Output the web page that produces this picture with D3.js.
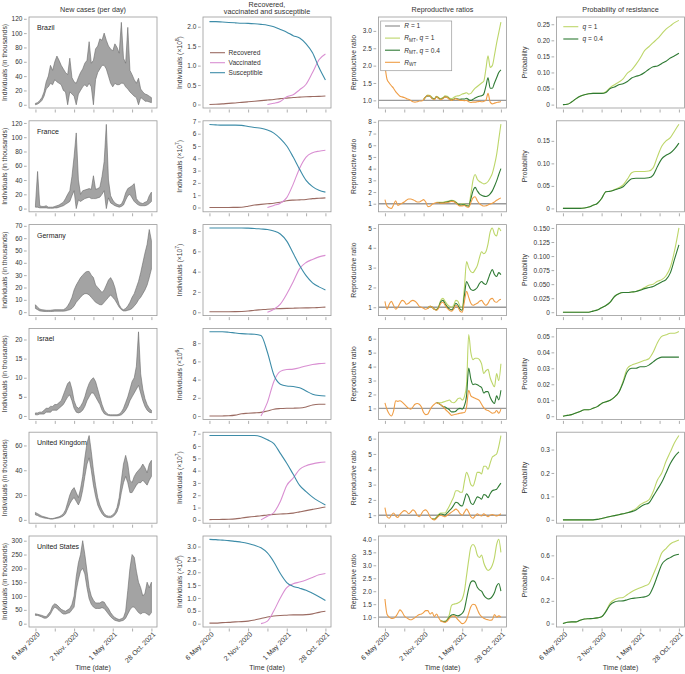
<!DOCTYPE html>
<html>
<head>
<meta charset="utf-8">
<script src="https://cdn.jsdelivr.net/npm/d3@7"></script>
<style>
  body { margin: 0; background: #fff; }
  svg text { font-family: "Liberation Sans", Arial, Helvetica, sans-serif; }
</style>
</head>
<body>
<svg id="chart" width="685" height="674"></svg>
<script>
// ---------- data ----------
const countries = ["Brazil", "France", "Germany", "Israel", "United Kingdom", "United States"];
const dateTickDays = [0, 90, 180, 270, 360, 450, 540];   // days after 6 May 2020
const dateTickLabels = ["6 May 2020", "", "2 Nov. 2020", "", "1 May 2021", "", "28 Oct. 2021"];
const popExponent = [8, 7, 7, 6, 7, 8];

// new cases (thousands), one value every 10 days, upper / lower envelope of the daily counts
const caseStep = 10;
const brazilHi = [2,3,6,10,18,32,40,55,48,60,68,62,55,50,45,42,65,38,32,30,38,45,50,58,62,88,58,62,78,82,92,90,100,90,82,78,75,85,80,72,115,65,58,108,48,42,35,30,37,22,18,15,14,12,10];
const brazilLo = [0,1,3,6,12,22,25,30,28,35,32,30,28,20,18,0,18,15,12,0,15,20,25,28,25,30,25,0,35,45,50,55,55,50,40,30,25,30,28,28,30,30,25,22,18,15,12,10,0,10,8,5,5,4,3];
const franceHi = [5,52,4,3,3,4,2,2,2,3,4,5,7,9,14,20,25,45,73,106,40,20,25,26,27,28,27,46,27,28,30,45,66,118,40,18,12,8,6,5,6,12,22,28,30,32,35,14,10,8,7,9,10,18,23];
const franceLo = [2,2,1,1,1,1,0.5,0.5,0.5,1,1,2,3,4,6,8,10,18,25,0,12,10,12,14,15,16,14,14,14,15,16,20,25,0,15,8,6,4,3,2,3,5,12,18,20,15,10,7,5,4,4,4,5,7,10];
const germanyHi = [6,4,2.5,2,1.8,1.5,1.5,1.5,1.8,2,2,2,2,2,3,5,8,12,18,22,25,28,30,32,33,33,30,28,22,20,18,16,18,22,26,28,25,20,12,6,3,2,3,5,8,12,15,20,25,32,40,48,55,67,58];
const germanyLo = [3,2,1,0.8,0.6,0.5,0.5,0.5,0.6,0.8,0.8,0.8,0.8,0.8,1,1.5,2,3,5,8,10,12,14,15,15,14,12,10,8,7,6,6,8,10,12,14,12,10,7,4,2,1,1,1.5,2,3,5,7,10,12,15,18,22,28,35];
const israelHi = [0.8,0.8,1,1,1.5,2,2,2.5,2.5,3,3,3.5,4,5.5,7,8.5,9,7,4,2.5,2,2.5,3.5,5,7,8.5,9.5,10,9,7,5,3,1.5,0.8,0.4,0.3,0.3,0.3,0.3,0.5,1,2,3.5,5,7,9,10,13,22,11,7,4.5,3,2,1.5];
const israelLo = [0.3,0.3,0.5,0.5,0.5,1,1,1,1.5,1.5,1.5,2,2.5,3,4,5,5.5,4,2,1,0.8,1,1.5,2.5,4,5,6,6,5,4,3,1.5,0.6,0.3,0.1,0.05,0.05,0.05,0.05,0.1,0.3,0.8,1.5,2.5,4,5,6,7,8,6,4,2.5,1.5,1,0.8];
const ukHi = [6,5,4,3,2.5,2,1.5,1,1,1.5,2,2.5,3.5,5,8,14,20,24,26,22,18,25,35,50,62,68,55,40,28,18,12,8,5,3.5,3,3,4,6,10,18,32,45,52,45,32,30,35,38,40,42,45,42,38,45,48];
const ukLo = [4,3.5,2.5,2,1.5,1.2,1,0.6,0.6,1,1.3,1.6,2.3,3.2,5,9,13,16,18,15,12,16,24,35,45,50,40,28,19,12,8,5,3,2.2,1.8,1.8,2.5,4,6.5,12,22,30,35,30,22,22,25,28,30,30,32,30,28,32,35];
const usHi = [36,34,32,30,27,25,35,45,65,72,68,60,52,48,45,50,55,70,100,170,220,250,300,250,190,130,100,85,75,75,75,80,78,65,55,40,30,22,18,15,18,22,45,120,200,250,240,190,150,130,100,110,150,130,150];
const usLo = [30,30,27,24,20,20,25,35,50,60,55,48,40,35,35,38,40,50,60,120,160,190,200,180,130,90,70,60,55,55,55,58,55,45,35,25,18,12,10,8,10,12,20,35,50,60,60,50,40,35,40,40,35,30,40];

// recovered / vaccinated / susceptible, one value every 30 days
const svrStep = 30;
const brazilS = [2.13,2.13,2.12,2.11,2.10,2.09,2.085,2.075,2.06,2.04,2.00,1.93,1.86,1.77,1.71,1.56,1.33,0.95,0.63];
const brazilR = [0,0.005,0.015,0.03,0.04,0.055,0.07,0.085,0.1,0.115,0.13,0.15,0.165,0.18,0.19,0.2,0.205,0.21,0.22];
const brazilV = [null,null,null,null,null,null,null,null,null,0,0.03,0.08,0.2,0.25,0.38,0.52,0.82,1.15,1.3];
const franceS = [6.75,6.72,6.7,6.7,6.7,6.68,6.58,6.5,6.45,6.3,6.05,5.6,5.0,4.1,3.1,2.2,1.7,1.4,1.25];
const franceR = [0,0,0,0,0.01,0.02,0.1,0.2,0.25,0.3,0.35,0.42,0.55,0.6,0.62,0.65,0.72,0.75,0.78];
const franceV = [null,null,null,null,null,null,null,null,null,0,0.17,0.35,0.8,1.9,3.2,4.1,4.45,4.58,4.65];
const germanyS = [8.3,8.3,8.3,8.3,8.3,8.3,8.28,8.25,8.2,8.15,8.0,7.7,7.0,5.8,4.6,3.6,2.9,2.5,2.2];
const germanyR = [0.05,0.05,0.05,0.05,0.06,0.08,0.12,0.2,0.25,0.3,0.33,0.36,0.38,0.4,0.42,0.43,0.44,0.47,0.5];
const germanyV = [null,null,null,null,null,null,null,null,null,0,0.3,0.8,1.8,3.0,4.3,4.9,5.2,5.45,5.6];
const israelS = [9.25,9.25,9.25,9.2,9.12,9.05,9.0,8.98,8.85,7.0,4.5,3.5,3.3,3.25,3.1,2.75,2.4,2.25,2.2];
const israelR = [0,0,0.01,0.03,0.1,0.25,0.3,0.35,0.4,0.55,0.75,0.82,0.85,0.86,0.88,1.0,1.22,1.3,1.3];
const israelV = [null,null,null,null,null,null,null,null,0,1.5,3.8,4.9,5.1,5.15,5.3,5.5,5.65,5.75,5.8];
const ukS = [6.85,6.85,6.85,6.85,6.85,6.85,6.85,6.85,6.75,6.5,6.2,5.4,4.6,3.7,2.8,2.3,1.85,1.5,1.2];
const ukR = [0.02,0.03,0.04,0.05,0.08,0.15,0.22,0.28,0.33,0.4,0.45,0.48,0.5,0.55,0.65,0.75,0.85,0.95,1.05];
const ukV = [null,null,null,null,null,null,null,null,0,0.3,0.6,1.5,2.8,3.4,4.1,4.4,4.55,4.65,4.7];
const usS = [3.28,3.27,3.25,3.23,3.2,3.17,3.12,3.05,2.95,2.75,2.4,1.95,1.6,1.45,1.38,1.3,1.18,1.05,0.9];
const usR = [0.02,0.02,0.04,0.05,0.07,0.08,0.1,0.14,0.2,0.26,0.3,0.32,0.33,0.34,0.34,0.35,0.38,0.44,0.48];
const usV = [null,null,null,null,null,null,null,null,0,0.1,0.5,1.0,1.4,1.55,1.62,1.7,1.8,1.9,1.95];

// reproductive ratios, one value every 10 days; mutant series start at mutStart (index)
const ratioStep = 10;
const mutStart = [18, 24, 20, 24, 22, 26];
const brazilWT = [2.0,1.6,1.5,1.42,1.35,1.25,1.18,1.12,1.1,1.08,1.05,1.03,1.0,0.96,0.95,0.96,0.98,0.98,1.02,1.1,1.14,1.12,1.05,1.02,1.1,1.05,1.02,1.05,1.1,1.08,1.03,1.0,1.02,1.05,1.02,1.0,1.0,0.99,1.0,0.96,0.94,0.95,0.95,0.96,0.97,0.96,0.97,1.0,1.2,0.95,0.9,0.92,0.94,0.95,0.97];
const brazilQ1 = [1.02,1.1,1.15,1.14,1.08,1.05,1.12,1.08,1.05,1.08,1.13,1.12,1.07,1.05,1.08,1.12,1.13,1.15,1.18,1.2,1.22,1.18,1.2,1.28,1.35,1.4,1.45,1.5,1.55,1.9,2.28,1.95,2.0,2.3,2.65,2.95,3.25];
const brazilQ04 = [1.02,1.1,1.13,1.12,1.06,1.03,1.1,1.06,1.03,1.06,1.1,1.09,1.04,1.01,1.03,1.06,1.04,1.03,1.04,1.04,1.06,1.02,1.0,1.03,1.07,1.1,1.12,1.13,1.18,1.4,1.65,1.35,1.35,1.5,1.65,1.8,1.88];
const franceWT = [1.35,0.8,0.65,0.6,0.9,1.25,0.85,0.95,1.05,1.15,1.3,1.4,1.4,1.35,1.25,1.15,1.15,1.25,1.35,1.15,0.75,0.78,0.95,1.05,1.1,1.08,1.05,1.05,1.07,1.1,1.15,1.2,1.18,1.05,0.9,0.8,0.82,0.85,0.75,0.7,1.1,1.5,1.6,1.25,1.0,0.88,0.8,0.82,0.9,0.98,1.05,1.15,1.3,1.4,1.5];
const franceQ1 = [1.12,1.12,1.12,1.13,1.16,1.2,1.25,1.3,1.28,1.15,1.0,0.95,1.0,0.98,0.9,0.85,1.8,3.0,3.5,3.1,2.9,2.8,2.7,2.75,2.9,3.2,3.6,4.3,5.2,6.5,7.8];
const franceQ04 = [1.11,1.1,1.08,1.09,1.12,1.15,1.2,1.25,1.22,1.1,0.95,0.88,0.9,0.9,0.82,0.78,1.4,2.1,2.4,2.1,1.85,1.72,1.65,1.62,1.68,1.85,2.1,2.5,2.95,3.5,4.0];
const germanyWT = [1.3,0.9,1.15,1.3,1.1,0.9,1.0,1.2,1.35,1.3,1.15,1.2,1.3,1.35,1.3,1.2,1.05,1.0,0.95,0.9,0.95,1.05,1.0,0.9,0.85,0.95,1.2,1.25,1.1,0.95,0.85,0.8,0.9,1.1,1.0,0.8,0.75,1.3,1.8,1.5,1.2,1.1,1.15,1.2,1.3,1.35,1.2,1.1,1.2,1.4,1.45,1.3,1.25,1.35,1.4];
const germanyQ1 = [0.95,1.05,1.0,0.9,0.9,1.05,1.35,1.45,1.3,1.15,1.05,1.0,1.1,1.35,1.3,1.05,1.0,2.0,3.3,3.0,2.8,2.75,2.9,3.1,3.5,3.8,3.7,3.8,4.2,4.8,5.0,4.7,4.6,5.0,4.85];
const germanyQ04 = [0.95,1.05,1.0,0.9,0.87,1.0,1.28,1.35,1.18,1.02,0.92,0.87,0.97,1.2,1.1,0.9,0.85,1.6,2.3,2.1,1.9,1.85,1.9,2.0,2.2,2.3,2.2,2.15,2.4,2.7,2.9,2.65,2.55,2.75,2.65];
const israelWT = [1.4,0.9,0.6,0.45,0.8,1.55,1.5,1.55,1.45,1.3,1.15,1.0,0.95,1.1,1.3,1.35,1.3,1.1,0.7,0.55,0.6,0.9,1.15,1.3,1.4,1.35,1.25,1.15,0.95,0.8,0.65,0.5,0.55,0.58,0.62,0.65,0.68,0.7,1.1,2.3,1.9,1.8,1.72,1.65,1.55,1.3,1.05,0.9,0.85,0.75,0.65,0.68,0.85,0.65,0.95];
const israelQ1 = [1.42,1.4,1.4,1.45,1.5,1.55,1.6,1.45,1.4,1.5,1.7,1.75,1.6,1.85,2.7,6.3,5.0,4.5,4.6,4.6,4.5,4.2,3.5,3.7,3.8,3.2,2.8,2.55,3.5,3.0,4.2];
const israelQ04 = [1.4,1.35,1.25,1.12,1.1,1.0,0.9,0.75,0.75,0.8,0.95,1.0,0.95,1.2,1.9,3.9,3.1,2.7,2.75,2.7,2.6,2.5,2.1,2.2,2.2,1.8,1.5,1.35,1.9,1.6,2.3];
const ukWT = [1.5,0.9,0.8,1.0,1.15,0.95,0.85,1.05,1.2,1.3,1.25,1.1,1.2,1.35,1.25,1.0,0.9,1.1,1.3,1.35,1.2,0.9,0.75,0.7,0.8,0.95,1.0,0.95,0.9,1.0,1.1,1.2,1.3,1.4,1.3,1.1,1.0,1.2,1.4,1.2,0.9,0.8,0.95,1.1,1.0,0.95,1.1,1.0,0.9,1.0,1.05,1.0,0.95,1.0,1.1];
const ukQ1 = [0.78,0.75,0.88,1.05,1.15,1.15,1.15,1.35,1.6,1.9,2.2,2.6,2.6,2.5,2.5,3.2,3.8,3.5,3.0,2.9,3.3,3.8,3.8,3.7,4.2,4.2,4.0,4.4,4.8,4.9,5.0,5.5,6.2];
const ukQ04 = [0.77,0.73,0.84,1.0,1.08,1.05,1.02,1.15,1.3,1.45,1.65,1.85,1.8,1.65,1.6,2.0,2.4,2.2,1.8,1.7,1.95,2.2,2.15,2.05,2.35,2.3,2.15,2.4,2.6,2.65,2.7,2.9,3.1];
const usWT = [1.7,1.1,1.0,0.95,0.96,1.02,1.15,1.28,1.2,1.05,0.98,0.93,0.9,0.93,0.98,1.05,1.1,1.12,1.18,1.25,1.25,1.12,1.18,1.02,1.12,0.98,0.85,0.82,0.8,0.85,0.95,1.02,1.05,1.0,0.9,0.82,0.75,0.78,0.9,1.15,1.4,1.5,1.48,1.3,1.12,1.02,0.96,0.92,0.9,0.88,0.9,1.1,1.0,1.05,1.0];
const usQ1 = [0.86,0.84,0.85,0.92,1.1,1.45,1.5,1.52,1.55,1.6,1.7,2.0,2.6,3.2,3.7,3.8,3.7,3.4,3.3,3.4,3.1,2.9,2.8,2.85,3.0,3.3,3.8,4.0,3.5];
const usQ04 = [0.85,0.83,0.82,0.88,1.0,1.08,1.1,1.07,1.05,1.08,1.15,1.3,1.7,2.1,2.35,2.4,2.35,2.15,2.05,2.0,1.85,1.75,1.7,1.72,1.8,1.95,2.2,2.3,2.0];

// probability of resistance, one value every 20 days
const probStep = 20;
const brazilP1 = [0,0.001,0.008,0.018,0.026,0.031,0.034,0.035,0.035,0.035,0.04,0.053,0.062,0.07,0.08,0.098,0.108,0.125,0.145,0.168,0.18,0.193,0.205,0.22,0.235,0.245,0.255,0.262];
const brazilP04 = [0,0.001,0.008,0.018,0.026,0.031,0.034,0.035,0.035,0.035,0.038,0.05,0.055,0.062,0.065,0.072,0.083,0.088,0.092,0.1,0.11,0.118,0.12,0.128,0.135,0.145,0.152,0.16];
const franceP1 = [0,0,0,0,0,0.001,0.003,0.007,0.011,0.022,0.037,0.038,0.042,0.046,0.052,0.065,0.079,0.082,0.082,0.082,0.083,0.09,0.115,0.138,0.15,0.157,0.172,0.187];
const franceP04 = [0,0,0,0,0,0.001,0.003,0.007,0.011,0.022,0.037,0.038,0.041,0.044,0.048,0.058,0.066,0.067,0.067,0.067,0.068,0.074,0.093,0.11,0.118,0.123,0.132,0.145];
const germanyP1 = [0,0,0,0,0,0,0,0.002,0.004,0.008,0.012,0.018,0.028,0.033,0.035,0.035,0.036,0.037,0.04,0.044,0.048,0.05,0.055,0.058,0.065,0.08,0.11,0.15];
const germanyP04 = [0,0,0,0,0,0,0,0.002,0.004,0.008,0.012,0.018,0.028,0.033,0.035,0.035,0.036,0.037,0.039,0.042,0.044,0.046,0.05,0.054,0.058,0.07,0.095,0.12];
const israelP1 = [0,0.0005,0.001,0.002,0.003,0.004,0.004,0.005,0.006,0.008,0.009,0.01,0.012,0.015,0.022,0.03,0.032,0.033,0.034,0.035,0.036,0.04,0.046,0.05,0.051,0.052,0.052,0.053];
const israelP04 = [0,0.0005,0.001,0.002,0.003,0.004,0.004,0.005,0.006,0.008,0.009,0.01,0.012,0.015,0.021,0.028,0.03,0.03,0.031,0.031,0.032,0.034,0.036,0.037,0.037,0.037,0.037,0.037];
const ukP1 = [0,0,0,0,0,0,0,0,0.002,0.006,0.01,0.014,0.018,0.022,0.026,0.03,0.038,0.048,0.065,0.075,0.085,0.12,0.17,0.2,0.25,0.29,0.33,0.36];
const ukP04 = [0,0,0,0,0,0,0,0,0.002,0.006,0.01,0.014,0.018,0.022,0.026,0.03,0.035,0.042,0.055,0.065,0.072,0.1,0.13,0.16,0.2,0.24,0.27,0.29];
const usP1 = [0,0.012,0.015,0.015,0.03,0.04,0.043,0.045,0.05,0.06,0.11,0.18,0.21,0.225,0.23,0.255,0.28,0.3,0.315,0.33,0.35,0.43,0.52,0.62,0.66,0.7,0.72,0.735];
const usP04 = [0,0.012,0.015,0.015,0.03,0.04,0.043,0.045,0.05,0.06,0.105,0.165,0.19,0.198,0.2,0.21,0.22,0.225,0.23,0.235,0.25,0.32,0.42,0.52,0.56,0.58,0.6,0.61];

// axis ticks and limits per row
const caseTicks = [[0,20,40,60,80,100,120],[0,20,40,60,80,100,120],[0,10,20,30,40,50,60,70],[0,5,10,15,20],[0,20,40,60],[0,50,100,150,200,250,300]];
const caseLimits = [[-4.5,122.5],[-4.5,123],[-2.8,71],[-0.9,22.9],[-2.7,70.7],[-12,317]];
const svrTicks = [[0,0.5,1,1.5,2],[0,1,2,3,4,5,6,7],[0,2,4,6,8],[0,2,4,6,8],[0,1,2,3,4,5,6,7],[0,0.5,1,1.5,2,2.5,3]];
const svrDecimals = [1,0,0,0,0,1];
const svrLimits = [[-0.09,2.25],[-0.35,7.05],[-0.33,8.63],[-0.37,9.62],[-0.27,7.12],[-0.13,3.41]];
const ratioTicks = [[1,1.5,2,2.5,3],[1,2,3,4,5,6,7,8],[1,2,3,4,5],[1,2,3,4,5,6],[1,2,3,4,5,6],[1,1.5,2,2.5,3,3.5,4]];
const ratioDecimals = [1,0,0,0,0,1];
const ratioLimits = [[0.78,3.4],[0.31,8.09],[0.58,5.17],[0.21,6.74],[0.48,6.42],[0.62,4.13]];
const probTicks = [[0,0.05,0.1,0.15,0.2,0.25],[0,0.05,0.1,0.15],[0,0.025,0.05,0.075,0.1,0.125,0.15],[0,0.01,0.02,0.03,0.04,0.05],[0,0.1,0.2,0.3],[0,0.2,0.4,0.6]];
const probDecimals = [2,2,3,2,1,1];
const probLimits = [[-0.0105,0.2725],[-0.0075,0.1945],[-0.006,0.156],[-0.002,0.055],[-0.0144,0.374],[-0.03,0.77]];

const casesHi = [brazilHi, franceHi, germanyHi, israelHi, ukHi, usHi];
const casesLo = [brazilLo, franceLo, germanyLo, israelLo, ukLo, usLo];
const susceptible = [brazilS, franceS, germanyS, israelS, ukS, usS];
const recovered = [brazilR, franceR, germanyR, israelR, ukR, usR];
const vaccinated = [brazilV, franceV, germanyV, israelV, ukV, usV];
const ratioWT = [brazilWT, franceWT, germanyWT, israelWT, ukWT, usWT];
const ratioQ1 = [brazilQ1, franceQ1, germanyQ1, israelQ1, ukQ1, usQ1];
const ratioQ04 = [brazilQ04, franceQ04, germanyQ04, israelQ04, ukQ04, usQ04];
const probQ1 = [brazilP1, franceP1, germanyP1, israelP1, ukP1, usP1];
const probQ04 = [brazilP04, franceP04, germanyP04, israelP04, ukP04, usP04];

// ---------- layout ----------
const colLeft = [29, 203, 378.5, 556.5];
const titleOffset = [22, 21, 23, 30];
const boxW = 128, boxH = 91, rowTop = 17, rowStep = 103.8;
const xDomain = [-30, 566];
const colors = {
  cases: "#a3a3a3", casesEdge: "#6a6a6a",
  recovered: "#9b6b62", vaccinated: "#d98fd2", susceptible: "#3d8ca8",
  r1: "#9a9a9a", q1: "#bdd66a", q04: "#2f7a34", wt: "#ef9d45"
};

const svg = d3.select("#chart");
let clipCount = 0;

function richText(sel, parts) {
  let shift = 0;
  parts.forEach(p => {
    const target = p.sub ? 1.8 : p.sup ? -2.6 : 0;
    sel.append("tspan")
      .attr("dy", target - shift)
      .attr("font-style", p.i ? "italic" : null)
      .attr("font-size", (p.sub || p.sup) ? "0.72em" : null)
      .text(p.t);
    shift = target;
  });
}

function makePanel(col, row, limits, ticks, decimals, titleParts) {
  const L = colLeft[col], T = rowTop + row * rowStep;
  const x = d3.scaleLinear().domain(xDomain).range([L, L + boxW]);
  const y = d3.scaleLinear().domain(limits).range([T + boxH, T]);
  const g = svg.append("g");
  const id = "clip" + (clipCount++);
  g.append("clipPath").attr("id", id)
    .append("rect").attr("x", L).attr("y", T).attr("width", boxW).attr("height", boxH);
  const plot = g.append("g").attr("clip-path", `url(#${id})`);

  const fmt = d3.format("." + decimals + "f");
  const ya = g.append("g").attr("transform", `translate(${L - 2.3},0)`)
    .call(d3.axisLeft(y).tickValues(ticks).tickSize(2.7).tickPadding(1.6)
      .tickFormat(v => v === 0 ? "0" : fmt(v)));
  ya.select(".domain").remove();
  ya.attr("font-size", 6.5).attr("font-family", null);
  ya.selectAll("line").attr("stroke", "#777").attr("stroke-width", 0.6);
  ya.selectAll("text").attr("fill", "#333");

  const xa = g.append("g").attr("transform", `translate(0,${T + boxH + 1.5})`)
    .call(d3.axisBottom(x).tickValues(dateTickDays).tickSize(3)
      .tickFormat((d, i) => row === 5 ? dateTickLabels[i] : ""));
  xa.select(".domain").remove();
  xa.attr("font-size", 7).attr("font-family", null);
  xa.selectAll("line").attr("stroke", "#777").attr("stroke-width", 0.6);
  if (row === 5) {
    xa.selectAll("text").attr("fill", "#333")
      .attr("text-anchor", "end").attr("x", -1.5).attr("y", 5).attr("dy", "0.35em")
      .attr("transform", "rotate(-45)");
    svg.append("text").attr("x", L + boxW / 2).attr("y", 670)
      .attr("text-anchor", "middle").attr("font-size", 7).attr("fill", "#333")
      .text("Time (date)");
  }

  const tt = g.append("text")
    .attr("transform", `translate(${L - titleOffset[col]},${T + boxH / 2}) rotate(-90)`)
    .attr("text-anchor", "middle").attr("font-size", 6.8).attr("fill", "#333");
  richText(tt, titleParts);

  return { g, plot, x, y, L, T, frame: () =>
    g.append("rect").attr("x", L).attr("y", T).attr("width", boxW).attr("height", boxH)
      .attr("fill", "none").attr("stroke", "#9a9a9a").attr("stroke-width", 0.8) };
}

function seriesLine(p) {
  return d3.line().defined(d => d.v != null)
    .x(d => p.x(d.day)).y(d => p.y(d.v)).curve(d3.curveMonotoneX);
}

function addLine(p, data, color, width) {
  p.plot.append("path").datum(data)
    .attr("d", seriesLine(p)).attr("fill", "none")
    .attr("stroke", color).attr("stroke-width", width).attr("stroke-linejoin", "round");
}

// ---------- column titles ----------
const colTitle = (col, yy, txt) => svg.append("text")
  .attr("x", colLeft[col] + boxW / 2).attr("y", yy).attr("text-anchor", "middle")
  .attr("font-size", 7.2).attr("fill", "#333").text(txt);
colTitle(0, 12, "New cases (per day)");
colTitle(1, 6.5, "Recovered,");
colTitle(1, 14, "vaccinated and susceptible");
colTitle(2, 12, "Reproductive ratios");
colTitle(3, 12, "Probability of resistance");

// ---------- panels ----------
countries.forEach((name, r) => {
  // new cases
  const p1 = makePanel(0, r, caseLimits[r], caseTicks[r], 0, [{ t: "Individuals (in thousands)" }]);
  const cases = casesHi[r].map((hi, i) => ({ day: i * caseStep, hi, lo: casesLo[r][i] }));
  p1.plot.append("path").datum(cases)
    .attr("d", d3.area().x(d => p1.x(d.day)).y0(d => p1.y(d.lo)).y1(d => p1.y(d.hi)))
    .attr("fill", colors.cases).attr("stroke", colors.casesEdge).attr("stroke-width", 0.6)
    .attr("stroke-linejoin", "round");
  p1.frame();
  p1.g.append("text").attr("x", p1.L + 8).attr("y", p1.T + 13)
    .attr("font-size", 7).attr("fill", "#222").text(name);

  // recovered, vaccinated, susceptible
  const p2 = makePanel(1, r, svrLimits[r], svrTicks[r], svrDecimals[r],
    [{ t: "Individuals (×10" }, { t: String(popExponent[r]), sup: 1 }, { t: ")" }]);
  const toSeries = (arr, step) => arr.map((v, i) => ({ day: i * step, v }));
  addLine(p2, toSeries(recovered[r], svrStep), colors.recovered, 1.1);
  addLine(p2, toSeries(vaccinated[r], svrStep), colors.vaccinated, 1.1);
  addLine(p2, toSeries(susceptible[r], svrStep), colors.susceptible, 1.1);
  p2.frame();

  // reproductive ratios
  const p3 = makePanel(2, r, ratioLimits[r], ratioTicks[r], ratioDecimals[r], [{ t: "Reproductive ratio" }]);
  p3.plot.append("line").attr("x1", p3.L).attr("x2", p3.L + boxW)
    .attr("y1", p3.y(1)).attr("y2", p3.y(1))
    .attr("stroke", colors.r1).attr("stroke-width", 1.3);
  const mutSeries = arr => arr.map((v, i) => ({ day: (mutStart[r] + i) * ratioStep, v }));
  addLine(p3, mutSeries(ratioQ1[r]), colors.q1, 1.1);
  addLine(p3, mutSeries(ratioQ04[r]), colors.q04, 1.1);
  addLine(p3, toSeries(ratioWT[r], ratioStep), colors.wt, 1.1);
  p3.frame();

  // probability of resistance
  const p4 = makePanel(3, r, probLimits[r], probTicks[r], probDecimals[r], [{ t: "Probability" }]);
  addLine(p4, toSeries(probQ1[r], probStep), colors.q1, 1.1);
  addLine(p4, toSeries(probQ04[r], probStep), colors.q04, 1.1);
  p4.frame();

  if (r === 0) {
    // legend: compartments
    const lg2 = p2.g.append("g").attr("font-size", 6.6).attr("fill", "#333");
    [["Recovered", colors.recovered], ["Vaccinated", colors.vaccinated], ["Susceptible", colors.susceptible]]
      .forEach(([lab, c], i) => {
        const yy = p2.T + 35.7 + i * 10;
        lg2.append("line").attr("x1", p2.L + 7).attr("x2", p2.L + 22).attr("y1", yy).attr("y2", yy)
          .attr("stroke", c).attr("stroke-width", 1.1);
        lg2.append("text").attr("x", p2.L + 25.5).attr("y", yy).attr("dy", "0.35em").text(lab);
      });

    // legend: reproductive ratios
    const lg3 = p3.g.append("g").attr("font-size", 6.6).attr("fill", "#333");
    lg3.append("rect").attr("x", p3.L + 2.2).attr("y", p3.T + 4).attr("width", 71).attr("height", 49.7)
      .attr("fill", "#fff").attr("stroke", "#9a9a9a").attr("stroke-width", 0.7);
    const items3 = [
      [[{ t: "R", i: 1 }, { t: " = 1" }], colors.r1, 1.3],
      [[{ t: "R", i: 1 }, { t: "MT", sub: 1 }, { t: ", " }, { t: "q", i: 1 }, { t: " = 1" }], colors.q1, 1.1],
      [[{ t: "R", i: 1 }, { t: "MT", sub: 1 }, { t: ", " }, { t: "q", i: 1 }, { t: " = 0.4" }], colors.q04, 1.1],
      [[{ t: "R", i: 1 }, { t: "WT", sub: 1 }], colors.wt, 1.1]
    ];
    items3.forEach(([parts, c, w], i) => {
      const yy = p3.T + 9 + i * 12.1;
      lg3.append("line").attr("x1", p3.L + 6.5).attr("x2", p3.L + 21.5).attr("y1", yy).attr("y2", yy)
        .attr("stroke", c).attr("stroke-width", w);
      richText(lg3.append("text").attr("x", p3.L + 25.8).attr("y", yy + 2.3), parts);
    });

    // legend: probability
    const lg4 = p4.g.append("g").attr("font-size", 6.6).attr("fill", "#333");
    [[" = 1", colors.q1], [" = 0.4", colors.q04]].forEach(([lab, c], i) => {
      const yy = p4.T + 9.7 + i * 12.3;
      lg4.append("line").attr("x1", p4.L + 6.8).attr("x2", p4.L + 21.8).attr("y1", yy).attr("y2", yy)
        .attr("stroke", c).attr("stroke-width", 1.1);
      richText(lg4.append("text").attr("x", p4.L + 26).attr("y", yy + 2.3), [{ t: "q", i: 1 }, { t: lab }]);
    });
  }
});
</script>
</body>
</html>
